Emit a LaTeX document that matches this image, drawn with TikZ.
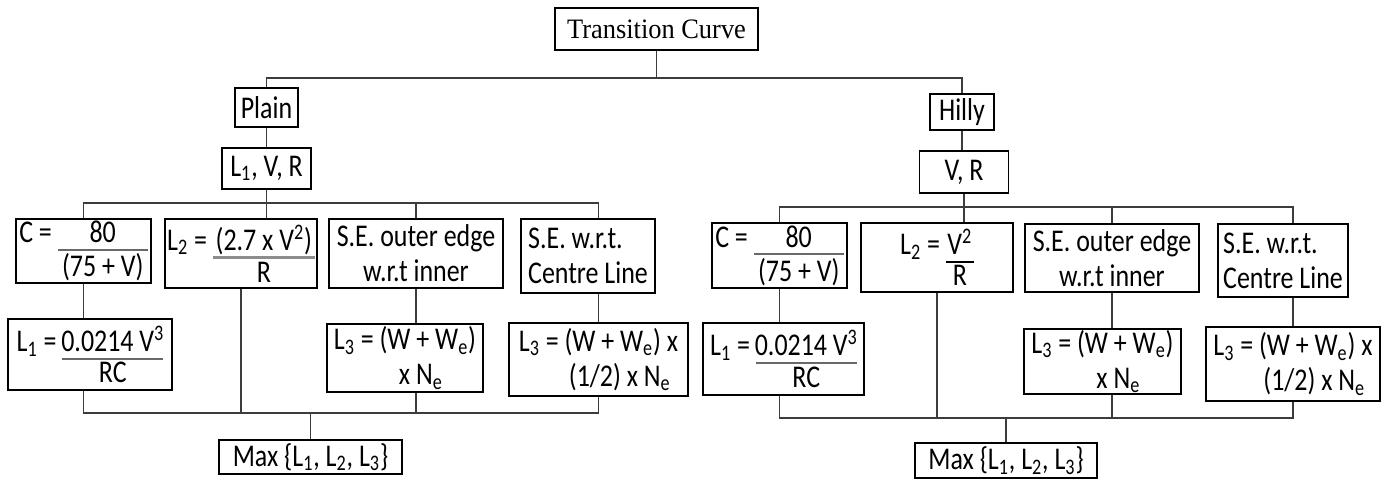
\documentclass[tikz,border=0pt]{standalone}
\usepackage{fontspec}
\setmainfont{Carlito}[FakeStretch=0.82]
\newfontfamily\headfont{Liberation Serif}[FakeStretch=0.94]
\usepackage{xcolor}
\usepackage{tikz}
\usetikzlibrary{calc}
\definecolor{linegray}{RGB}{60,60,60}
\definecolor{rulegray}{RGB}{105,105,105}
\definecolor{lightrule}{RGB}{140,140,140}

% numerator over a rule over a denominator (rule colour, width, thickness)
\newcommand{\fr}[5]{%
  \vtop{\offinterlineskip
    \hbox to #2{\hss#4\hss}\kern-\prevdepth\kern3.5pt
    {\color{#1}\hrule height #3}\kern1.5pt
    \hbox to #2{\hss#5\hss}}}
\newcommand{\lo}[1]{\textsubscript{#1}}
\newcommand{\hi}[1]{\textsuperscript{#1}}

\begin{document}
\begin{tikzpicture}[x=0.02cm, y=-0.02cm,
    cbox/.style 2 args={draw, line width=0.9pt, inner sep=0pt,
      minimum width=#1*0.02cm, minimum height=#2*0.02cm,
      font=\fontsize{18}{20}\selectfont},
    conn/.style={draw=linegray, line width=0.8pt}]
    \useasboundingbox (0,0) rectangle (1391,479);

    % Top level
    \node[cbox={203}{42}, font=\headfont\fontsize{16}{18}\selectfont] (tc) at (656.5,29) {Transition Curve};
    \node[cbox={63}{39}] (plain) at (266.5,107.5) {Plain};
    \node[cbox={64}{36}] (hilly) at (962,112) {Hilly};
    \node[cbox={89}{41}] (lvr) at (266.5,168.5) {L\lo{1}, V, R};
    \node[cbox={89}{42}] (vr) at (964,172) {V, R};

    % Plain branch
    \node[cbox={135}{64}] (cL) at (83.5,251)
        {C = \fr{rulegray}{1.8cm}{1.1pt}{80}{(75 + V)}};
    \node[cbox={152}{69}] (l2L) at (241,253.5)
        {L\lo{2} = \fr{lightrule}{2.04cm}{1.7pt}{(2.7 x V\hi{2})}{R}};
    \node[cbox={174}{69}, align=center] (seL) at (416,253.5)
        {S.E. outer edge\\w.r.t inner};
    \node[cbox={134}{74}, align=left] (sewL) at (588,256)
        {S.E. w.r.t.\\Centre Line};
    \node[cbox={164}{71}] (l1L) at (90,354.5)
        {L\lo{1} = \fr{rulegray}{2.02cm}{1.1pt}{0.0214 V\hi{3}}{RC}};
    \node[cbox={156}{68}, align=left] (l3L) at (405,358)
        {L\lo{3} = (W + W\lo{e})\\\hspace*{1.3cm}x N\lo{e}};
    \node[cbox={179}{73}, align=left] (l3bL) at (598.5,359.5)
        {L\lo{3} = (W + W\lo{e}) x\\\hspace*{1cm}(1/2) x N\lo{e}};
    \node[cbox={183}{34}] (maxL) at (310.5,457)
        {Max \{L\lo{1}, L\lo{2}, L\lo{3}\}};

    % Hilly branch
    \node[cbox={135}{65}] (cR) at (779.5,255.5)
        {C = \fr{rulegray}{1.8cm}{1.1pt}{80}{(75 + V)}};
    \node[cbox={152}{69}] (l2R) at (937,257.5)
        {L\lo{2} = \fr{black}{0.56cm}{0.8pt}{V\hi{2}}{R}};
    \node[cbox={174}{68}, align=center] (seR) at (1112,258)
        {S.E. outer edge\\w.r.t inner};
    \node[cbox={130}{73}, align=left] (sewR) at (1283,260.5)
        {S.E. w.r.t.\\Centre Line};
    \node[cbox={161}{72}] (l1R) at (783.5,359)
        {L\lo{1} = \fr{rulegray}{2.02cm}{1.1pt}{0.0214 V\hi{3}}{RC}};
    \node[cbox={157}{65}, align=left] (l3R) at (1102.5,361.5)
        {L\lo{3} = (W + W\lo{e})\\\hspace*{1.3cm}x N\lo{e}};
    \node[cbox={174}{74}, align=left] (l3bR) at (1293,364)
        {L\lo{3} = (W + W\lo{e}) x\\\hspace*{1cm}(1/2) x N\lo{e}};
    \node[cbox={182}{35}] (maxR) at (1006,460.5)
        {Max \{L\lo{1}, L\lo{2}, L\lo{3}\}};

    % Buses
    \coordinate (top) at (0,78);
    \coordinate (busL) at (0,203);
    \coordinate (busR) at (0,207);
    \coordinate (botL) at (0,413);
    \coordinate (botR) at (0,418);

    \draw[conn] (tc.south) -- (tc.south |- top);
    \draw[conn] (plain.north) |- (hilly.north |- top) -- (hilly.north);
    \draw[conn] (plain.south) -- (plain.south |- lvr.north);
    \draw[conn] (hilly.south) -- (hilly.south |- vr.north);

    % Plain connectors
    \draw[conn] (lvr.south) -- (lvr.south |- l2L.north);
    \draw[conn] (cL.north) |- (l3bL.north |- busL) -- (l3bL.north |- sewL.north);
    \draw[conn] (seL.north) -- (seL.north |- busL);
    \draw[conn] (cL.south) -- (cL.south |- l1L.north);
    \draw[conn] (seL.south) -- (seL.south |- l3L.north);
    \draw[conn] (l3bL.north |- sewL.south) -- (l3bL.north);
    \draw[conn] (cL.south |- l1L.south) |- (l3bL.south |- botL) -- (l3bL.south);
    \draw[conn] (l2L.south) -- (l2L.south |- botL);
    \draw[conn] (seL.south |- l3L.south) -- (seL.south |- botL);
    \draw[conn] (maxL.north) -- (maxL.north |- botL);

    % Hilly connectors
    \draw[conn] (vr.south) -- (vr.south |- l2R.north);
    \draw[conn] (cR.north) |- (l3bR.north |- busR) -- (l3bR.north |- sewR.north);
    \draw[conn] (seR.north) -- (seR.north |- busR);
    \draw[conn] (cR.south) -- (cR.south |- l1R.north);
    \draw[conn] (seR.south) -- (seR.south |- l3R.north);
    \draw[conn] (l3bR.north |- sewR.south) -- (l3bR.north);
    \draw[conn] (cR.south |- l1R.south) |- (l3bR.south |- botR) -- (l3bR.south);
    \draw[conn] (l2R.south) -- (l2R.south |- botR);
    \draw[conn] (seR.south |- l3R.south) -- (seR.south |- botR);
    \draw[conn] (maxR.north) -- (maxR.north |- botR);
\end{tikzpicture}
\end{document}
